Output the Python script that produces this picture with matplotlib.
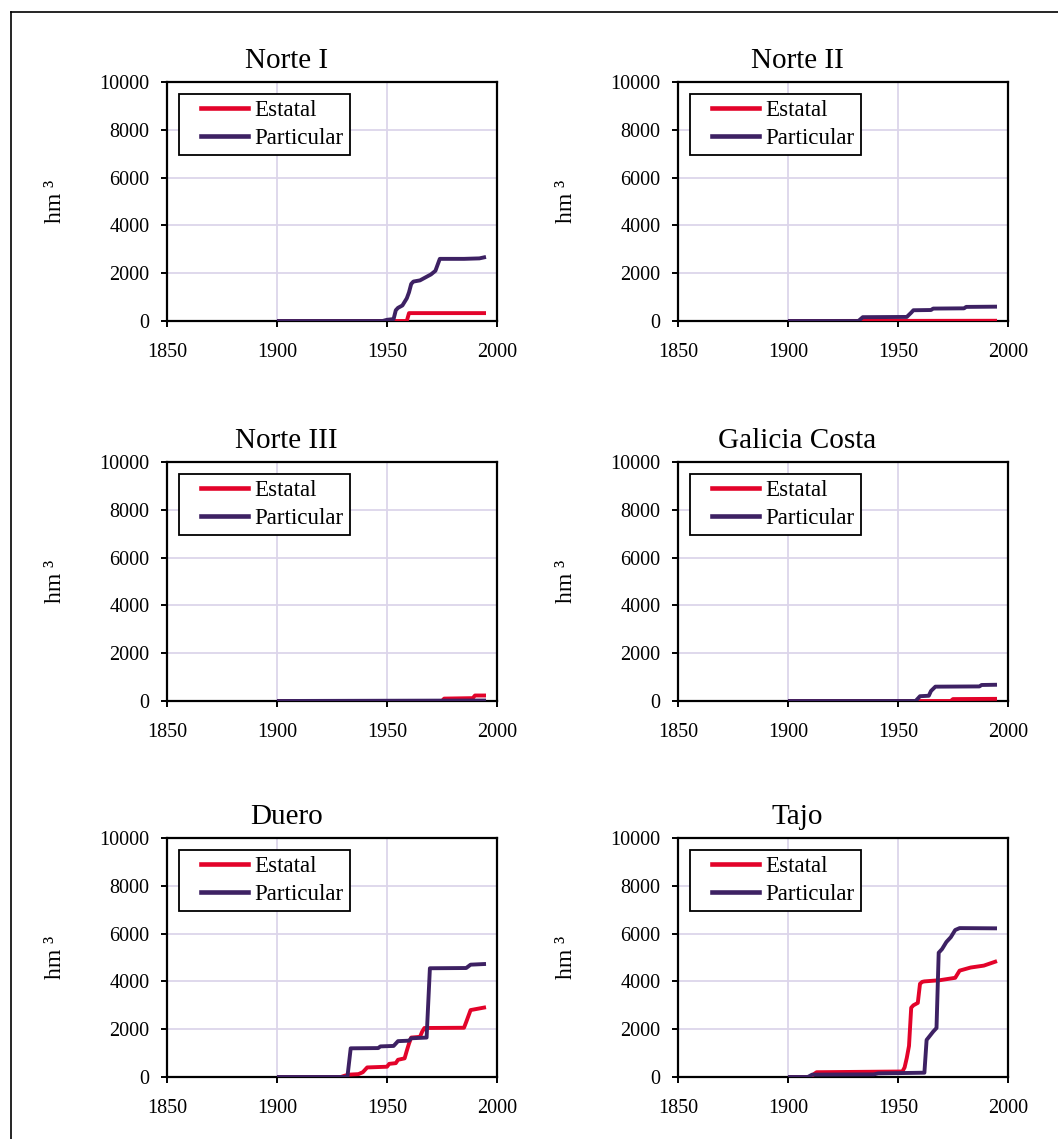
import matplotlib
matplotlib.use("Agg")
import matplotlib.pyplot as plt
from matplotlib.legend_handler import HandlerLine2D

plt.rcParams['font.family'] = ['Liberation Serif', 'DejaVu Serif']

RED = '#e3032a'
PURPLE = '#3d2163'
GRID = '#dcd5ea'

titles = ['Norte I', 'Norte II', 'Norte III', 'Galicia Costa', 'Duero', 'Tajo']
series_names = ['Estatal', 'Particular']
xticks = [1850, 1900, 1950, 2000]
yticks = [0, 2000, 4000, 6000, 8000, 10000]

# Norte I
n1_est_years = [1900, 1959, 1960, 1995]
n1_est_vals = [0, 0, 330, 330]
n1_par_years = [1900, 1948, 1950, 1953, 1954, 1955, 1957, 1958, 1959, 1960, 1961,
                1962, 1965, 1968, 1970, 1972, 1974, 1985, 1992, 1995]
n1_par_vals = [0, 0, 50, 80, 450, 550, 650, 800, 950, 1200, 1550,
               1650, 1700, 1850, 1950, 2100, 2600, 2600, 2620, 2680]

# Norte II
n2_est_years = [1900, 1995]
n2_est_vals = [0, 10]
n2_par_years = [1900, 1932, 1934, 1954, 1956, 1957, 1965, 1966, 1980, 1981, 1995]
n2_par_vals = [0, 0, 160, 170, 350, 450, 460, 520, 530, 590, 600]

# Norte III
n3_est_years = [1900, 1975, 1976, 1989, 1990, 1995]
n3_est_vals = [0, 0, 100, 120, 230, 230]
n3_par_years = [1900, 1995]
n3_par_vals = [0, 20]

# Galicia Costa
gc_est_years = [1900, 1974, 1975, 1995]
gc_est_vals = [0, 0, 80, 90]
gc_par_years = [1900, 1958, 1960, 1964, 1965, 1967, 1987, 1988, 1995]
gc_par_vals = [0, 0, 200, 220, 420, 600, 610, 670, 680]

# Duero
du_est_years = [1900, 1929, 1931, 1933, 1937, 1939, 1941, 1950, 1951, 1954, 1955,
                1958, 1959, 1960, 1961, 1965, 1966, 1967, 1985, 1986, 1988, 1995]
du_est_vals = [0, 0, 60, 100, 120, 200, 400, 430, 550, 580, 720,
               780, 1100, 1400, 1650, 1680, 1900, 2050, 2060, 2300, 2800, 2920]
du_par_years = [1900, 1932, 1933.5, 1946, 1947, 1953, 1955, 1960, 1961, 1968,
                1969.5, 1986, 1988, 1995]
du_par_vals = [0, 0, 1200, 1210, 1280, 1300, 1500, 1520, 1620, 1650,
               4550, 4560, 4700, 4730]

# Tajo
tj_est_years = [1900, 1910, 1913, 1952, 1953, 1954, 1955, 1956, 1957, 1959, 1960,
                1961, 1962, 1969, 1976, 1978, 1983, 1989, 1995]
tj_est_vals = [0, 0, 200, 230, 400, 800, 1300, 2900, 3000, 3100, 3900,
               3980, 4000, 4050, 4150, 4450, 4580, 4660, 4850]
tj_par_years = [1900, 1909, 1911, 1939, 1941, 1962, 1963, 1966, 1967.5, 1968.5,
                1970, 1972, 1974, 1976, 1978, 1995]
tj_par_vals = [0, 0, 100, 110, 150, 180, 1550, 1900, 2050, 5200,
               5350, 5650, 5850, 6150, 6230, 6220]

panels = [
    (n1_est_years, n1_est_vals, n1_par_years, n1_par_vals),
    (n2_est_years, n2_est_vals, n2_par_years, n2_par_vals),
    (n3_est_years, n3_est_vals, n3_par_years, n3_par_vals),
    (gc_est_years, gc_est_vals, gc_par_years, gc_par_vals),
    (du_est_years, du_est_vals, du_par_years, du_par_vals),
    (tj_est_years, tj_est_vals, tj_par_years, tj_par_vals),
]


class ShortHandler(HandlerLine2D):
    # legend line drawn only on the right part of the handle box
    def create_artists(self, legend, orig_handle, xdescent, ydescent,
                       width, height, fontsize, trans):
        arts = super().create_artists(legend, orig_handle, xdescent, ydescent,
                                      width, height, fontsize, trans)
        x = arts[0].get_xdata()
        y = arts[0].get_ydata()
        arts[0].set_data([x[0] + 0.26 * (x[-1] - x[0]), x[-1]], [y[0], y[-1]])
        return arts


W, H = 1058, 1139
fig = plt.figure(figsize=(W / 100, H / 100), dpi=100)

lefts = [167, 678]
tops = [82, 462, 838]
aw, ah = 330, 239

for i, (ey, ev, py, pv) in enumerate(panels):
    col, row = i % 2, i // 2
    ax = fig.add_axes([lefts[col] / W, 1 - (tops[row] + ah) / H, aw / W, ah / H])
    ax.plot(ey, ev, color=RED, lw=2.8, solid_capstyle='butt', zorder=3)
    ax.plot(py, pv, color=PURPLE, lw=2.8, solid_capstyle='butt', zorder=3)
    ax.set_xlim(1850, 2000)
    ax.set_ylim(0, 10000)
    ax.set_xticks(xticks)
    ax.set_yticks(yticks)
    ax.grid(True, color=GRID, lw=1.3)
    ax.set_axisbelow(True)
    for s in ax.spines.values():
        s.set_linewidth(1.6)
    ax.tick_params(direction='out', length=4.5, width=1.4, labelsize=14.5)
    ax.tick_params(axis='y', pad=8)
    ax.tick_params(axis='x', pad=11)
    ax.set_ylabel('hm ³', fontsize=17, labelpad=24)
    ax.text(0.362, 1.058, titles[i], transform=ax.transAxes, ha='center',
            va='baseline', fontsize=21)
    h1, = ax.plot([], [], color=RED, lw=3.3)
    h2, = ax.plot([], [], color=PURPLE, lw=3.3)
    leg = ax.legend([h1, h2], series_names, loc='upper left',
                    bbox_to_anchor=(0.036, 0.95), borderaxespad=0,
                    fontsize=16.6, handlelength=2.75, handletextpad=0.28,
                    labelspacing=0.28, borderpad=0.26, fancybox=False,
                    framealpha=1, edgecolor='black',
                    handler_map={h1: ShortHandler(), h2: ShortHandler()})
    leg.get_frame().set_linewidth(1.3)

# outer frame (top and left edges)
fig.add_artist(plt.Line2D([11 / W, 1], [1 - 12 / H, 1 - 12 / H], color='black', lw=1.2))
fig.add_artist(plt.Line2D([11 / W, 11 / W], [0, 1 - 12 / H], color='black', lw=1.2))

fig.savefig('out.png', dpi=100)
